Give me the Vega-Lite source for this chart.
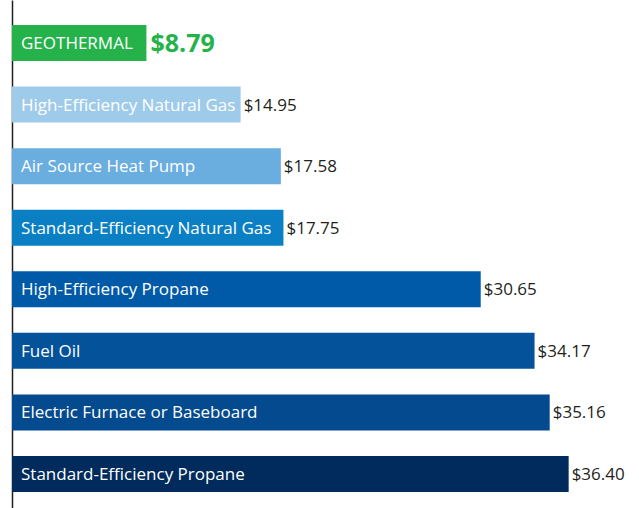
{
  "$schema": "https://vega.github.io/schema/vega-lite/v6.json",
  "width": 627,
  "height": 508,
  "padding": {"left": 12, "top": 0, "right": 0, "bottom": 0},
  "autosize": {"type": "none"},
  "background": "white",
  "config": {"view": {"stroke": null}, "font": "Open Sans"},
  "data": {"values": [
    {"name": "GEOTHERMAL", "cost": 8.79, "label": "$8.79"},
    {"name": "High-Efficiency Natural Gas", "cost": 14.95, "label": "$14.95"},
    {"name": "Air Source Heat Pump", "cost": 17.58, "label": "$17.58"},
    {"name": "Standard-Efficiency Natural Gas", "cost": 17.75, "label": "$17.75"},
    {"name": "High-Efficiency Propane", "cost": 30.65, "label": "$30.65"},
    {"name": "Fuel Oil", "cost": 34.17, "label": "$34.17"},
    {"name": "Electric Furnace or Baseboard", "cost": 35.16, "label": "$35.16"},
    {"name": "Standard-Efficiency Propane", "cost": 36.40, "label": "$36.40"}
  ]},
  "encoding": {
    "y": {"field": "name", "type": "nominal", "sort": null,
      "scale": {"paddingInner": 0.415, "paddingOuter": 0.333, "align": 0.61},
      "axis": {"title": null, "labels": false, "ticks": false, "domain": true, "domainColor": "#231f20", "domainWidth": 1.5, "grid": false}}
  },
  "layer": [
    {
      "mark": {"type": "bar"},
      "encoding": {
        "x": {"field": "cost", "type": "quantitative", "scale": {"domain": [0, 41.0], "nice": false}, "axis": null},
        "color": {"field": "name", "type": "nominal", "legend": null,
          "scale": {
            "domain": ["GEOTHERMAL", "High-Efficiency Natural Gas", "Air Source Heat Pump", "Standard-Efficiency Natural Gas", "High-Efficiency Propane", "Fuel Oil", "Electric Furnace or Baseboard", "Standard-Efficiency Propane"],
            "range": ["#25b24b", "#9fcbeb", "#6aaddf", "#0b7fc4", "#005aa8", "#03529a", "#044a8e", "#002b5c"]
          }}
      }
    },
    {
      "mark": {"type": "text", "align": "left", "baseline": "middle", "dx": 9, "dy": 1, "color": "white", "fontSize": 17},
      "encoding": {
        "x": {"datum": 0, "type": "quantitative"},
        "text": {"field": "name"}
      }
    },
    {
      "transform": [{"filter": "datum.name !== 'GEOTHERMAL'"}],
      "mark": {"type": "text", "align": "left", "baseline": "middle", "dx": 3, "dy": 1, "color": "#231f20", "fontSize": 17},
      "encoding": {
        "x": {"field": "cost", "type": "quantitative"},
        "text": {"field": "label"}
      }
    },
    {
      "transform": [{"filter": "datum.name === 'GEOTHERMAL'"}],
      "mark": {"type": "text", "align": "left", "baseline": "middle", "dx": 4, "dy": 1, "color": "#25b24b", "fontSize": 25, "fontWeight": "bold"},
      "encoding": {
        "x": {"field": "cost", "type": "quantitative"},
        "text": {"field": "label"}
      }
    }
  ]
}
